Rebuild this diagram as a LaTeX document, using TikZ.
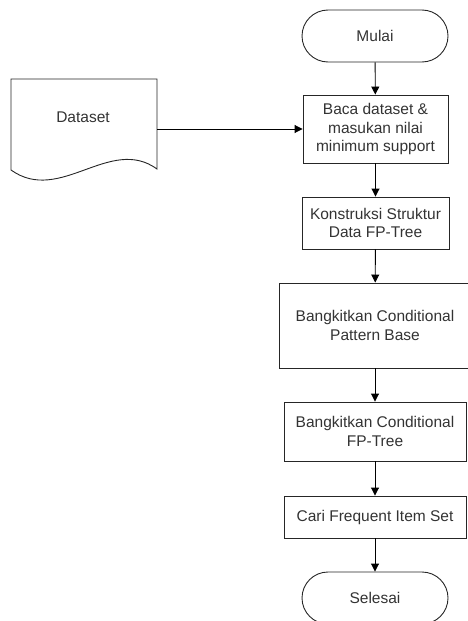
\documentclass[tikz,border=0pt]{standalone}
\usepackage{fontspec}
\setmainfont{Liberation Sans}
\usetikzlibrary{arrows.meta}
\begin{document}
\begin{tikzpicture}[x=1pt,y=-1pt,line width=0.9pt,
	-{Triangle[length=8pt,width=8pt]},
	font=\fontsize{15.5}{18.3}\selectfont]
	\tikzstyle{proses}=[rectangle,draw=black!85,text=black!80,align=center,inner sep=0pt]
	\tikzstyle{terminal}=[rectangle,draw=black!85,text=black!80,rounded corners=26pt,minimum width=146pt,minimum height=52pt,inner sep=0pt]
	\useasboundingbox (0,0) rectangle (467,621);
	\node[terminal] (Mulai) at (375,36) {Mulai};
	\node[proses, minimum width=145pt, minimum height=68pt] (Baca) at (375.5,129) {Baca dataset \&\\masukan nilai\\minimum support};
	\node[proses, minimum width=147pt, minimum height=52pt] (Konstruksi) at (375.5,223) {Konstruksi Struktur\\Data FP-Tree};
	\node[proses, minimum width=192pt, minimum height=85pt] (Pattern) at (375,325.5) {Bangkitkan Conditional\\Pattern Base};
	\node[proses, minimum width=182pt, minimum height=59pt] (FPTree) at (375,431.5) {Bangkitkan Conditional\\FP-Tree};
	\node[proses, minimum width=182pt, minimum height=42pt] (Cari) at (375,517) {Cari Frequent Item Set};
	\node[terminal] (Selesai) at (375,598) {Selesai};

	% dokumen dataset
	\node[text=black!80] (Dataset) at (83,117) {Dataset};
	\draw[-,draw=black!85] (11,79) -- (157,79) -- (157,169) .. controls (110,135) and (60,205) .. (11,170) -- cycle;
	\coordinate (DatasetOut) at (157,129);

	\draw (DatasetOut) -- (Baca);
	\draw (Mulai) -- (Baca);
	\draw (Baca) -- (Konstruksi);
	\draw (Konstruksi) -- (Pattern);
	\draw (Pattern) -- (FPTree);
	\draw (FPTree) -- (Cari);
	\draw (Cari) -- (Selesai);
\end{tikzpicture}
\end{document}
